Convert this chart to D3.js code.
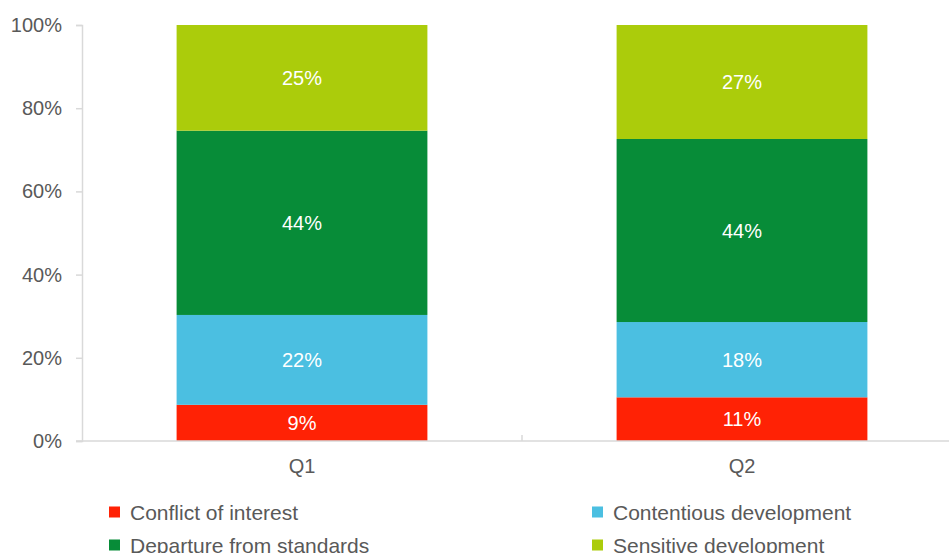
<!DOCTYPE html>
<html>
<head>
<meta charset="utf-8">
<script src="https://cdn.jsdelivr.net/npm/d3@7"></script>
<style>
  body { margin: 0; background: #fff; }
  text { font-family: "Liberation Sans", Arial, sans-serif; }
</style>
</head>
<body>
<div id="chart"></div>
<script>
const categories = ["Q1", "Q2"];
const seriesNames = ["Conflict of interest", "Contentious development", "Departure from standards", "Sensitive development"];
const seriesColors = ["#ff2205", "#4bbfe1", "#078c38", "#abcc0b"];
const conflict = [8.7, 10.5];
const contentious = [21.6, 18.1];
const departure = [44.3, 44.0];
const sensitive = [25.4, 27.4];
const yTicks = [0, 20, 40, 60, 80, 100];

const width = 949, height = 553;
const margin = { top: 25, right: -13, bottom: 112, left: 82 };

const svg = d3.select("#chart").append("svg")
  .attr("width", width)
  .attr("height", height);

const rows = categories.map((c, i) => ({
  cat: c,
  [seriesNames[0]]: conflict[i],
  [seriesNames[1]]: contentious[i],
  [seriesNames[2]]: departure[i],
  [seriesNames[3]]: sensitive[i]
}));

const stacked = d3.stack().keys(seriesNames)(rows);

const x = d3.scaleBand()
  .domain(categories)
  .range([margin.left, width - margin.right])
  .paddingInner(0.43)
  .paddingOuter(0.215);

const y = d3.scaleLinear()
  .domain([0, 100])
  .range([height - margin.bottom, margin.top]);

const color = d3.scaleOrdinal().domain(seriesNames).range(seriesColors);

// y axis
const yAxis = svg.append("g")
  .attr("transform", `translate(${margin.left},0)`)
  .call(d3.axisLeft(y).tickValues(yTicks).tickFormat(d => d + "%").tickSize(6).tickPadding(14));
yAxis.select(".domain").attr("stroke", "#d9d9d9").attr("stroke-width", 1.5);
yAxis.selectAll(".tick line").attr("stroke", "#d9d9d9").attr("stroke-width", 1.5);
yAxis.selectAll(".tick text").attr("fill", "#595959").style("font-size", "20px");

// bars
const groups = svg.selectAll("g.series")
  .data(stacked)
  .enter()
  .append("g")
  .attr("class", "series")
  .attr("fill", d => color(d.key));

groups.selectAll("rect")
  .data(d => d)
  .enter()
  .append("rect")
  .attr("x", d => x(d.data.cat))
  .attr("y", d => y(d[1]))
  .attr("width", x.bandwidth())
  .attr("height", d => y(d[0]) - y(d[1]));

groups.selectAll("text")
  .data(d => d)
  .enter()
  .append("text")
  .attr("x", d => x(d.data.cat) + x.bandwidth() / 2)
  .attr("y", d => (y(d[0]) + y(d[1])) / 2)
  .attr("dy", "0.36em")
  .attr("text-anchor", "middle")
  .attr("fill", "#fff")
  .style("font-size", "20px")
  .text(d => Math.round(d[1] - d[0]) + "%");

// x axis
const base = y(0);
svg.append("line")
  .attr("x1", margin.left - 6)
  .attr("x2", width)
  .attr("y1", base)
  .attr("y2", base)
  .attr("stroke", "#d9d9d9")
  .attr("stroke-width", 1.5);

const step = x.step();
svg.append("line")
  .attr("x1", x("Q1") + x.bandwidth() / 2 + step / 2)
  .attr("x2", x("Q1") + x.bandwidth() / 2 + step / 2)
  .attr("y1", base)
  .attr("y2", base - 6)
  .attr("stroke", "#d9d9d9")
  .attr("stroke-width", 1.5);

svg.selectAll("text.cat")
  .data(categories)
  .enter()
  .append("text")
  .attr("class", "cat")
  .attr("x", d => x(d) + x.bandwidth() / 2)
  .attr("y", base + 32)
  .attr("text-anchor", "middle")
  .attr("fill", "#595959")
  .style("font-size", "20px")
  .text(d => d);

// legend
const legendPos = [[109, 512], [592, 512], [109, 545], [592, 545]];
const legend = svg.selectAll("g.legend")
  .data(seriesNames)
  .enter()
  .append("g")
  .attr("class", "legend")
  .attr("transform", (d, i) => `translate(${legendPos[i][0]},${legendPos[i][1]})`);

legend.append("rect")
  .attr("x", 0)
  .attr("y", -5.5)
  .attr("width", 11)
  .attr("height", 11)
  .attr("fill", d => color(d));

legend.append("text")
  .attr("x", 21)
  .attr("y", 0)
  .attr("dy", "0.36em")
  .attr("fill", "#595959")
  .style("font-size", "21px")
  .text(d => d);
</script>
</body>
</html>
